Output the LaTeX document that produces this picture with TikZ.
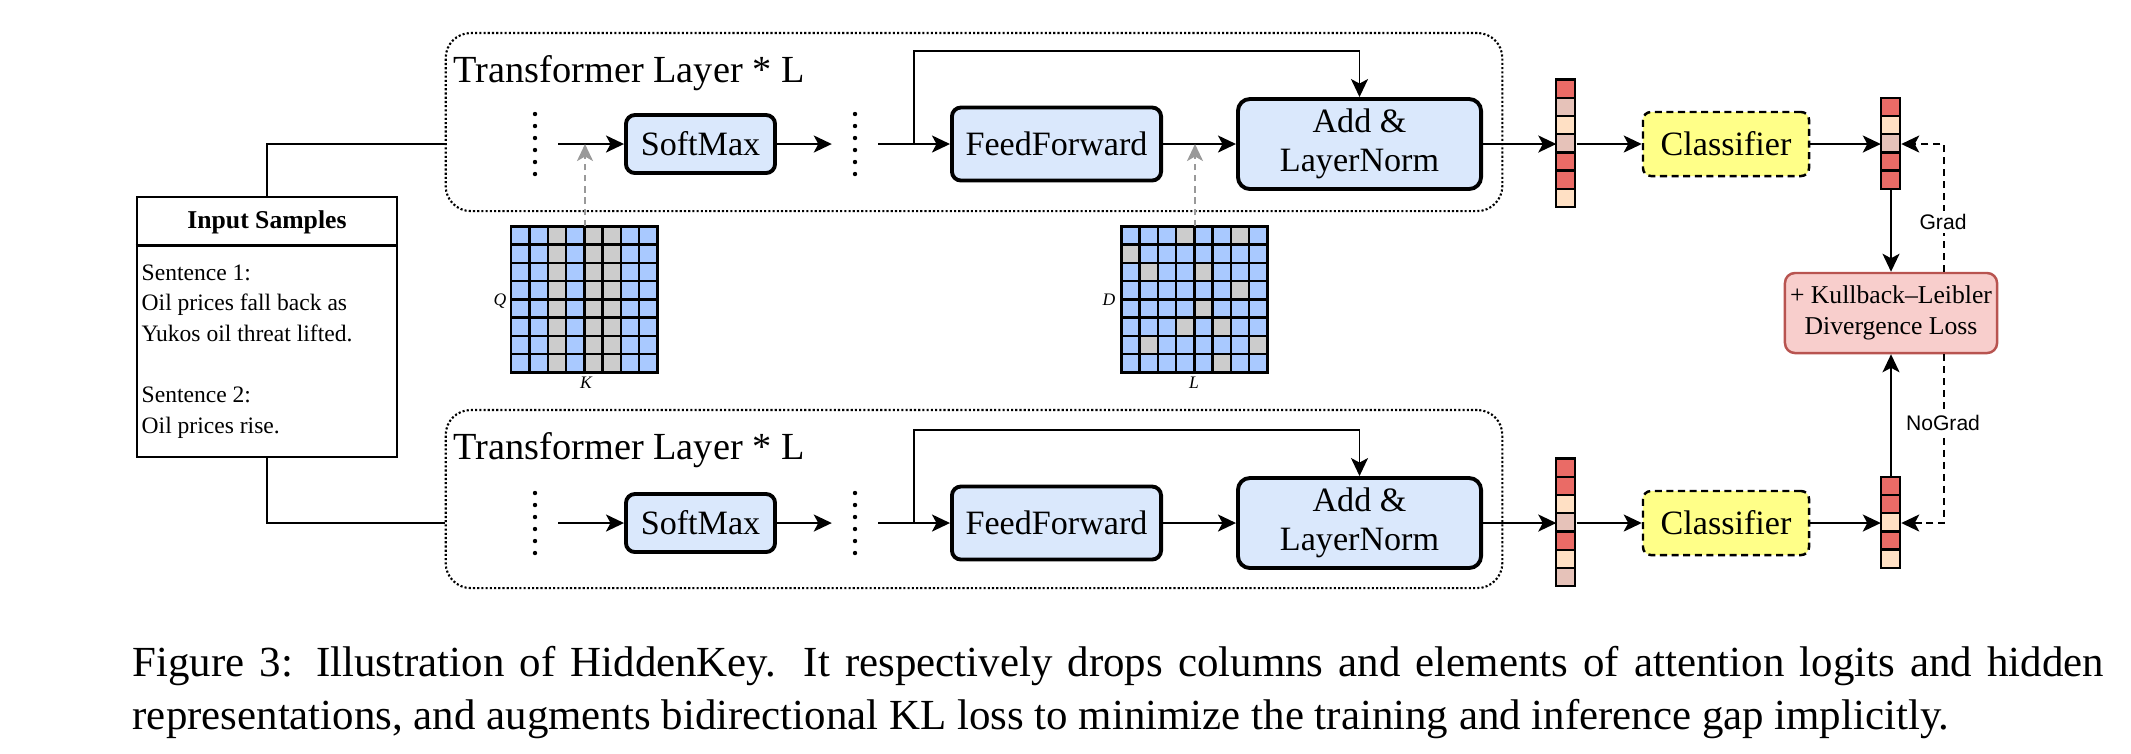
\documentclass[tikz,border=0pt]{standalone}
\usepackage{fontspec}
\setmainfont{Liberation Serif}
\newfontfamily\helv{Liberation Sans}
\usetikzlibrary{arrows.meta,calc}
\definecolor{boxblue}{HTML}{DAE8FC}
\definecolor{cellblue}{RGB}{169,201,255}
\definecolor{cellgray}{RGB}{204,204,204}
\definecolor{vred}{HTML}{EA6B66}
\definecolor{vrose}{HTML}{E6C2B9}
\definecolor{vpeach}{HTML}{FFE0C4}
\definecolor{clsyellow}{HTML}{FFFF88}
\definecolor{klfill}{HTML}{F8CECC}
\definecolor{kldraw}{HTML}{B85450}
\definecolor{garrow}{RGB}{153,153,153}
\begin{document}
\begin{tikzpicture}[x=0.01cm,y=-0.01cm,
  arr/.style={-{Stealth[length=0.18cm,width=0.17cm,inset=0.045cm]}, line width=0.6pt},
  darr/.style={arr, dash pattern=on 2pt off 1.4pt},
  garr/.style={-{Stealth[length=0.17cm,width=0.16cm,inset=0.045cm]}, line width=0.6pt, draw=garrow, dash pattern=on 1.8pt off 1.4pt},
  conn/.style={line width=0.6pt},
  tbox/.style={draw, line width=0.6pt, dash pattern=on 0.6pt off 0.6pt, rounded corners=0.25cm, minimum width=10.56cm, minimum height=1.78cm, inner sep=0},
  ttl/.style={anchor=base west, inner sep=0, font=\fontsize{10.9}{13}\selectfont},
  dotsn/.style={minimum width=0.45cm, minimum height=0.62cm, inner sep=0},
  procbox/.style={draw, line width=1.1pt, rounded corners=0.09cm, fill=boxblue, inner sep=0, align=center, font=\fontsize{9.7}{11.2}\selectfont},
  clsbox/.style={draw, line width=0.7pt, dash pattern=on 2pt off 1.3pt, rounded corners=0.08cm, fill=clsyellow, minimum width=1.66cm, minimum height=0.64cm, inner sep=0, font=\fontsize{9.7}{11.2}\selectfont},
  klbox/.style={draw=kldraw, line width=0.7pt, fill=klfill, rounded corners=0.1cm, minimum width=2.12cm, minimum height=0.8cm, inner sep=0, align=center, font=\fontsize{7.3}{8.8}\selectfont},
  vecn/.style={minimum width=0.19cm, inner sep=0},
  cellsty/.style={draw, line width=0.65pt},
  gcell/.style={draw, line width=0.7pt},
  gridn/.style={minimum width=1.46cm, minimum height=1.46cm, inner sep=0},
  glab/.style={inner sep=0, font=\fontsize{5}{6}\selectfont\itshape},
  lbl/.style={fill=white, inner sep=1pt, font=\helv\fontsize{6}{7}\selectfont}
]
\useasboundingbox (0,0) rectangle (2131,753);

% ---------------- transformer boxes
\node[tbox] (tb1) at (974,122) {};
\node[ttl] (tt1) at (453,82) {Transformer Layer * L};
\node[tbox] (tb2) at (974,499) {};
\node[ttl] (tt2) at (453,459) {Transformer Layer * L};

% ---------------- rows
\foreach \r/\y in {1/144,2/523}{
  \node[dotsn] (da\r) at (535,\y) {};
  \node[dotsn] (db\r) at (855,\y) {};
  \node[procbox, minimum width=1.49cm, minimum height=0.58cm] (sm\r) at (700.5,\y) {SoftMax};
  \node[procbox, minimum width=2.09cm, minimum height=0.73cm] (ff\r) at (1056.5,\y) {FeedForward};
  \node[procbox, minimum width=2.43cm, minimum height=0.9cm, rounded corners=0.12cm] (aln\r) at (1359.5,\y) {Add \&\\LayerNorm};
  \node[clsbox] (cl\r) at (1726,\y) {Classifier};
}
\foreach \n in {da1,db1,da2,db2}
  \foreach \i in {0,...,5}
    \fill ([yshift={(2.5-\i)*0.12cm}]\n.center) circle[radius=0.022cm];

% ---------------- vectors
\node[vecn, minimum height=1.274cm] (vt1) at (1566.5,144) {};
\node[vecn, minimum height=1.274cm] (vb1) at (1566.5,523) {};
\node[vecn, minimum height=0.91cm] (vt2) at (1891,144) {};
\node[vecn, minimum height=0.91cm] (vb2) at (1891,523) {};
\foreach \col [count=\k from 0] in {vred,vrose,vpeach,vrose,vred,vred,vpeach}
  \draw[cellsty, fill=\col] ([yshift=-\k*0.182cm]vt1.north west) rectangle ++(0.19cm,-0.182cm);
\foreach \col [count=\k from 0] in {vred,vred,vpeach,vrose,vred,vpeach,vrose}
  \draw[cellsty, fill=\col] ([yshift=-\k*0.182cm]vb1.north west) rectangle ++(0.19cm,-0.182cm);
\foreach \col [count=\k from 0] in {vred,vpeach,vrose,vred,vred}
  \draw[cellsty, fill=\col] ([yshift=-\k*0.182cm]vt2.north west) rectangle ++(0.19cm,-0.182cm);
\foreach \col [count=\k from 0] in {vred,vred,vpeach,vred,vpeach}
  \draw[cellsty, fill=\col] ([yshift=-\k*0.182cm]vb2.north west) rectangle ++(0.19cm,-0.182cm);

% ---------------- KL box
\node[klbox] (kl) at (1891,313) {+ Kullback–Leibler\\Divergence Loss};

% ---------------- row connectors
\foreach \r in {1,2}{
  \draw[arr] (da\r) -- (sm\r);
  \draw[arr] (sm\r) -- (db\r);
  \draw[arr] (db\r) -- (ff\r);
  \draw[arr] (ff\r) -- (aln\r);
  \coordinate (sk\r) at ($(db\r.east)!0.5!(ff\r.west)$);
  \draw[arr, line width=0.5pt] (sk\r) |- ([yshift=0.46cm]aln\r.north) -- (aln\r.north);
}
\draw[arr] (aln1) -- (vt1);
\draw[arr] (aln2) -- (vb1);
\draw[arr] (vt1) -- (cl1);
\draw[arr] (vb1) -- (cl2);
\draw[arr] (cl1) -- (vt2);
\draw[arr] (cl2) -- (vb2);
\draw[arr] (vt2) -- (kl);
\draw[arr] (vb2) -- (kl);
\draw[darr] ([xshift=0.53cm]kl.north) |- (vt2.east);
\draw[darr] ([xshift=0.53cm]kl.south) |- (vb2.east);
\node[lbl] (gradl) at (1943,222) {Grad};
\node[lbl] (nogradl) at (1943,423) {NoGrad};

% ---------------- input samples
\node[draw, line width=0.75pt, minimum width=2.6cm, minimum height=2.6cm, inner sep=0] (inp) at (267,327) {};
\draw[line width=0.75pt] ([yshift=-0.5cm]inp.north west) -- ([yshift=-0.5cm]inp.north east);
\node[anchor=base, inner sep=0, font=\bfseries\fontsize{7.3}{9}\selectfont] (inph) at (267,228) {Input Samples};
\node[anchor=north west, inner sep=0, align=left, font=\fontsize{6.7}{8.7}\selectfont] (inpb) at (141,264)
  {Sentence 1:\\Oil prices fall back as\\Yukos oil threat lifted.\\[8.7pt]Sentence 2:\\Oil prices rise.};
\draw[conn] (inp.north) |- (tb1.west |- sm1.center);
\draw[conn] (inp.south) |- (tb2.west |- sm2.center);

% ---------------- grids
\node[gridn] (g1) at (585,300) {};
\node[gridn] (g2) at (1195,300) {};
\foreach \r in {0,...,7}{
  \foreach \c in {0,...,7}{
    \draw[gcell, fill=cellblue] ([shift={(\c*0.1825cm,-\r*0.1825cm)}]g1.north west) rectangle ++(0.1825cm,-0.1825cm);
    \draw[gcell, fill=cellblue] ([shift={(\c*0.1825cm,-\r*0.1825cm)}]g2.north west) rectangle ++(0.1825cm,-0.1825cm);
  }
}
\foreach \c in {2,4,5}
  \foreach \r in {0,...,7}
    \draw[gcell, fill=cellgray] ([shift={(\c*0.1825cm,-\r*0.1825cm)}]g1.north west) rectangle ++(0.1825cm,-0.1825cm);
\foreach \r/\c in {0/3,0/6,1/0,2/1,2/4,3/6,4/4,5/3,5/5,6/1,6/7,7/5}
  \draw[gcell, fill=cellgray] ([shift={(\c*0.1825cm,-\r*0.1825cm)}]g2.north west) rectangle ++(0.1825cm,-0.1825cm);
\node[glab] (lq) at (500,301) {Q};
\node[glab] (lk) at (586,383) {K};
\node[glab] (ld) at (1109,300) {D};
\node[glab] (ll) at (1194,383) {L};
\draw[garr] (g1.north) -- (g1.north |- sm1.west);
\draw[garr] (g2.north) -- (g2.north |- ff1.east);

% ---------------- caption
\node[anchor=north west, inner sep=0, text width=19.70cm, align=justify, font=\fontsize{12.2}{15.08}\selectfont] (cap) at (132,646)
  {\tolerance=9999 Figure 3: Illustration of HiddenKey. It respectively drops columns and elements of attention logits and hidden\linebreak representations, and augments bidirectional KL loss to minimize the training and inference gap implicitly.};
\end{tikzpicture}
\end{document}
